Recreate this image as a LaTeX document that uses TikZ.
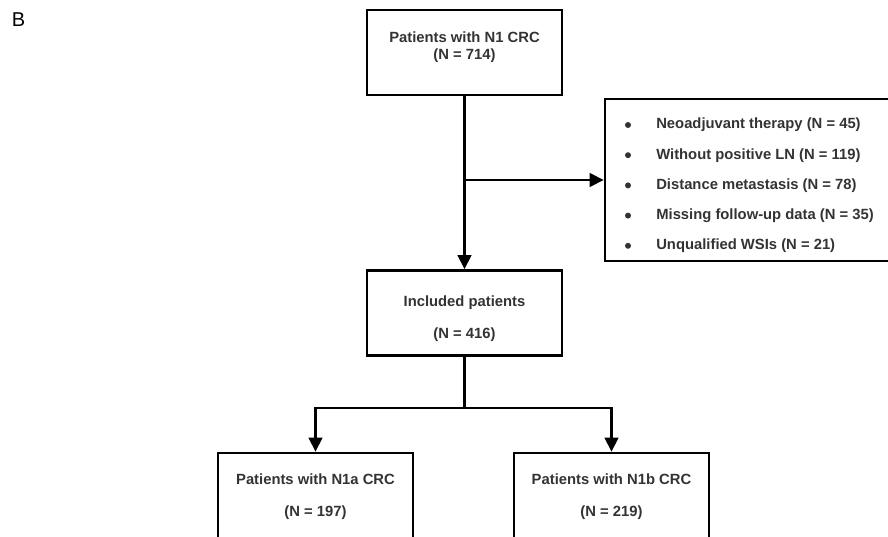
\documentclass[tikz,border=0pt]{standalone}
\usepackage{fontspec}
\setmainfont{Liberation Sans}
\usetikzlibrary{arrows.meta, positioning}
\definecolor{ctext}{HTML}{333333}
\tikzset{
  every picture/.style={line width=2.6pt, x=1pt, y=-1pt},
  box/.style={draw=black, minimum width=195pt, minimum height=85pt, inner sep=0pt, align=center, text=ctext, font=\fontsize{14.8}{17.5}\selectfont\bfseries},
  arrow/.style={-{Triangle[length=14pt, width=13.5pt]}, draw=black},
  item/.style={anchor=west, inner sep=0pt, text=ctext, font=\fontsize{14.8}{17.5}\selectfont\bfseries},
  dot/.style={circle, fill=ctext, inner sep=0pt, minimum size=6pt},
  panel/.style={anchor=north west, inner sep=0pt, font=\fontsize{20}{24}\selectfont},
}

\begin{document}
\begin{tikzpicture}
  \useasboundingbox (0,0) rectangle (888,537);
  \node[panel] (lbl) at (10.5,11.5) {B};
  % main flow
  \node[box] (all) at (464.5,52.5) {Patients with N1 CRC\\(N = 714)\\[-4pt]\mbox{}};
  \node[box] (incl) at (464.5,313) {\mbox{}\\[5pt]Included patients\\[14.5pt](N = 416)};
  \node[box, minimum height=87pt] (n1a) at (315.5,496.5) {Patients with N1a CRC\\[14.5pt](N = 197)};
  \node[box, minimum height=87pt] (n1b) at (611.5,496.5) {Patients with N1b CRC\\[14.5pt](N = 219)};
  % exclusions
  \node[draw=black, minimum width=290pt, minimum height=162pt, inner sep=0pt] (excl) at (750,180) {};
  \foreach \txt [count=\i] in {{Neoadjuvant therapy (N = 45)}, {Without positive LN (N = 119)},
      {Distance metastasis (N = 78)}, {Missing follow-up data (N = 35)}, {Unqualified WSIs (N = 21)}} {
    \node[dot] (dot\i) at (628,94.8+30.2*\i) {};
    \node[item] (ex\i) at (655,94.8+30.2*\i) {\txt};
  }
  % connectors
  \draw[arrow] (all) -- (incl);
  \draw[arrow] (all.south |- excl.west) -- (excl.west);
  \coordinate (split) at (464.5,408);
  \draw (incl.south) -- (split);
  \draw[arrow] (split) -| (n1a.north);
  \draw[arrow] (split) -| (n1b.north);
\end{tikzpicture}
\end{document}
